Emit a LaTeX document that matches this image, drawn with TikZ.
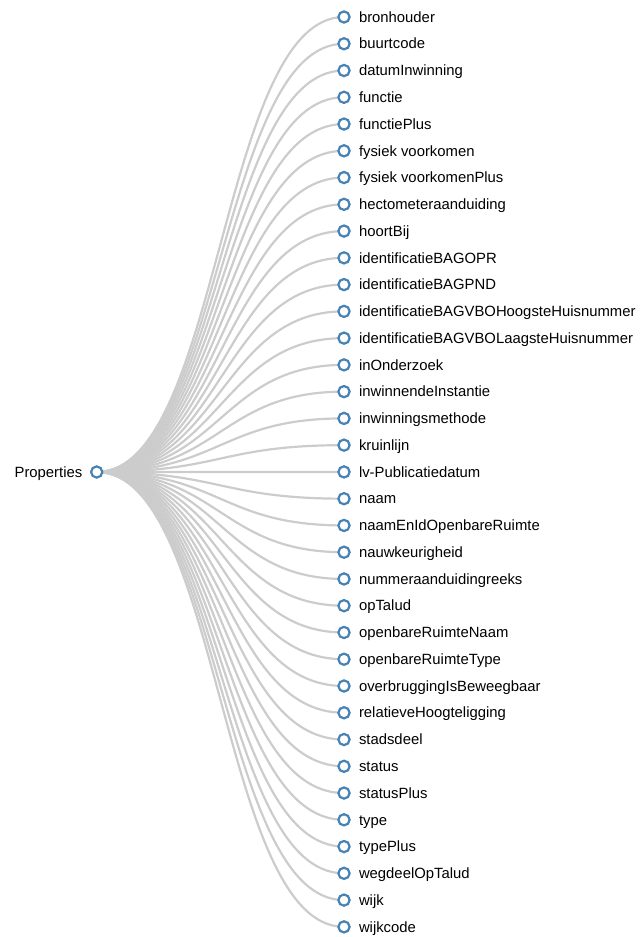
\documentclass[tikz,border=0pt]{standalone}
\usepackage{fontspec}
\setmainfont{Liberation Sans}
\usetikzlibrary{positioning,backgrounds}
\definecolor{treelink}{HTML}{CCCCCC}
\definecolor{treedot}{HTML}{4682B4}

\begin{document}
\begin{tikzpicture}[x=1pt,y=-1pt,
  dot/.style={circle,draw=treedot,fill=white,line width=2.2pt,minimum size=11.2pt,inner sep=0pt},
  lbl/.style={font=\fontsize{14.85}{17}\selectfont,inner sep=0pt,text=black},
  link/.style={draw=treelink,line width=2.2pt}]
\useasboundingbox (0,0) rectangle (642,937);

% ---------------- root ------------------------------------------------------
\node[dot] (root) at (96.7,472) {};
\node[lbl,anchor=base east] (rootlbl) at ([xshift=-14.2pt,yshift=-5.2pt]root.center) {Properties};

% ---------------- leaves, one row each -------------------------------------
\foreach \name [count=\i from 0] in {bronhouder,buurtcode,datumInwinning,functie,
  functiePlus,fysiek voorkomen,fysiek voorkomenPlus,hectometeraanduiding,hoortBij,
  identificatieBAGOPR,identificatieBAGPND,identificatieBAGVBOHoogsteHuisnummer,
  identificatieBAGVBOLaagsteHuisnummer,inOnderzoek,inwinnendeInstantie,
  inwinningsmethode,kruinlijn,lv-Publicatiedatum,naam,naamEnIdOpenbareRuimte,
  nauwkeurigheid,nummeraanduidingreeks,opTalud,openbareRuimteNaam,
  openbareRuimteType,overbruggingIsBeweegbaar,relatieveHoogteligging,stadsdeel,
  status,statusPlus,type,typePlus,wegdeelOpTalud,wijk,wijkcode}{
  \pgfmathsetmacro{\rowy}{17+26.76*\i}
  \node[dot] (leaf\i) at (344,\rowy) {};
  \node[lbl,anchor=base west] (lbl\i) at ([xshift=14.8pt,yshift=-5.2pt]leaf\i.center) {\name};
  % links sit behind the dots
  \begin{scope}[on background layer]
    \draw[link] (root.center) .. controls (220.35,472) and (220.35,\rowy) .. (leaf\i.center);
  \end{scope}
}

\end{tikzpicture}
\end{document}
